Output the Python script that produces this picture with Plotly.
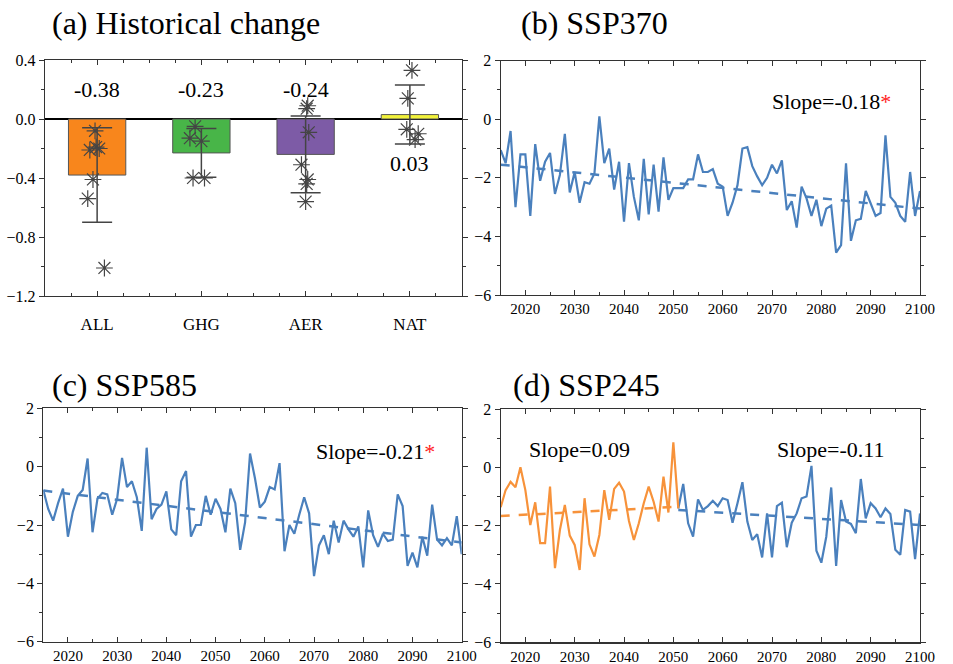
import plotly.graph_objects as go

# ---------------- data ----------------
categories = ["ALL", "GHG", "AER", "NAT"]
bar_values = [-0.38, -0.23, -0.24, 0.03]
bar_errors = [0.32, 0.165, 0.26, 0.20]
bar_colors = ["#F8861C", "#48B548", "#7D5BA6", "#F2F23A"]

stars_all = [-0.08, -0.21, -0.19, -0.20, -0.41, -0.54, -1.01]
stars_ghg = [-0.05, -0.13, -0.15, -0.40, -0.40]
stars_aer = [0.09, 0.07, -0.09, -0.31, -0.41, -0.44, -0.56]
stars_nat = [0.33, 0.14, -0.07, -0.10, -0.14]

years = list(range(2015, 2101))

ssp370 = [-1.05, -1.5, -0.4, -3.0, -1.2, -1.2, -3.3, -0.85, -2.1, -1.45,
          -1.15, -2.55, -1.9, -0.5, -2.5, -1.8, -2.85, -2.15, -2.2, -1.85,
          0.1, -1.5, -1.0, -2.4, -1.45, -3.5, -1.5, -2.65, -3.45, -1.35,
          -3.25, -1.55, -3.15, -1.3, -2.75, -2.35, -2.35, -2.35, -2.05, -2.05,
          -1.2, -1.8, -1.8, -1.7, -2.2, -2.3, -3.3, -2.85, -2.25, -1.0,
          -0.95, -1.6, -1.95, -2.25, -2.0, -1.55, -1.85, -1.4, -3.1, -2.8,
          -3.7, -2.3, -2.7, -3.3, -2.75, -3.65, -3.05, -2.95, -4.55, -4.3,
          -1.5, -4.15, -3.45, -3.4, -2.45, -2.85, -3.3, -3.2, -0.55, -2.65,
          -2.85, -3.3, -3.5, -1.8, -3.3, -2.45]

ssp585 = [-0.8, -1.45, -1.85, -1.25, -0.75, -2.4, -1.55, -1.0, -0.8, 0.28,
          -2.25, -1.1, -0.9, -0.95, -1.65, -1.1, 0.3, -0.7, -0.5, -1.05,
          -2.2, 0.65, -1.8, -1.45, -1.3, -0.85, -2.15, -2.35, -0.5, -0.15,
          -2.4, -2.0, -2.0, -1.0, -1.65, -1.1, -1.45, -2.25, -0.75, -1.25,
          -2.85, -1.9, 0.45, -0.4, -1.4, -1.2, -0.7, -0.78, 0.12, -2.9,
          -2.0, -2.3, -1.65, -1.05, -1.6, -3.75, -2.7, -2.35, -3.0, -1.85,
          -2.6, -1.85, -2.15, -2.4, -2.05, -3.45, -1.5, -2.35, -2.75, -2.3,
          -2.55, -2.5, -0.95, -1.35, -3.4, -2.95, -3.45, -2.4, -3.05, -1.3,
          -2.5, -2.7, -2.45, -2.7, -1.7, -3.0]

years_245_early = list(range(2015, 2052))
ssp245_early = [-1.37, -0.78, -0.5, -0.68, 0.0, -0.78, -1.98, -1.2, -2.6, -2.6,
                -0.66, -3.46, -2.15, -1.29, -2.34, -2.66, -3.52, -1.06, -2.64, -3.06,
                -2.32, -0.78, -1.8, -0.74, -0.53, -0.83, -1.84, -2.49, -1.92, -1.23,
                -0.66, -1.18, -1.86, -0.32, -1.55, 0.86, -1.41]
years_245_late = list(range(2051, 2101))
ssp245_late = [-1.41, -0.57, -1.92, -2.38, -1.1, -1.46, -1.33, -1.15, -1.33, -1.06,
               -1.12, -1.9, -1.23, -0.51, -1.86, -2.49, -2.29, -3.09, -1.58, -3.09,
               -1.33, -1.21, -2.74, -1.9, -1.58, -1.06, -1.0, 0.05, -2.86, -3.27,
               -2.38, -0.69, -3.38, -1.12, -1.86, -1.94, -2.26, -0.4, -1.75, -1.23,
               -1.41, -1.71, -1.41, -1.6, -2.83, -3.0, -1.46, -1.52, -3.15, -1.58]

trend_years_full = [2015, 2100]
trend_370 = [-1.55, -3.05]
trend_585 = [-0.82, -2.60]
trend_years_early = [2015, 2051]
trend_245_early = [-1.67, -1.35]
trend_years_late = [2051, 2100]
trend_245_late = [-1.46, -1.98]

slope_370 = "-0.18"
slope_585 = "-0.21"
slope_245_early = "0.09"
slope_245_late = "-0.11"

titles = ["(a) Historical change", "(b) SSP370", "(c) SSP585", "(d) SSP245"]

# ---------------- styling ----------------
FONT = "Liberation Serif, Times New Roman, serif"
BLUE = "#4A80BD"
ORANGE = "#F7923A"
STAR = "#454545"
AX = "#333333"
W, H = 953, 664


def dom_x(a, b):
    return [a / W, b / W]


def dom_y(top, bottom):
    return [1 - bottom / H, 1 - top / H]


fig = go.Figure()

# ---- panel (a) ----
fig.add_trace(go.Bar(
    x=list(range(len(categories))), y=bar_values, width=0.55,
    marker=dict(color=bar_colors, line=dict(color="#555555", width=1)),
    error_y=dict(type="data", array=bar_errors, visible=True,
                 color="#444444", thickness=1.5, width=15),
    xaxis="x", yaxis="y", showlegend=False))

jitter = [
    [-0.02, -0.07, -0.01, 0.02, -0.04, -0.09, 0.07],
    [-0.06, -0.11, 0.0, -0.08, 0.03],
    [0.02, 0.01, 0.03, -0.04, 0.02, 0.01, 0.0],
    [0.02, -0.02, -0.03, 0.08, 0.05],
]
for i, vals in enumerate([stars_all, stars_ghg, stars_aer, stars_nat]):
    fig.add_trace(go.Scatter(
        x=[i + j for j in jitter[i]], y=vals, mode="markers",
        marker=dict(symbol="asterisk-open", size=14,
                    line=dict(color=STAR, width=1.2), color=STAR),
        xaxis="x", yaxis="y", showlegend=False))

label_y = [0.2, 0.2, 0.2, -0.3]
annotations = []
for i, v in enumerate(bar_values):
    annotations.append(dict(x=i, y=label_y[i], xref="x", yref="y",
                            text=f"{v:.2f}", showarrow=False,
                            font=dict(family=FONT, size=22, color="black")))

# ---- panel (b) ----
fig.add_trace(go.Scatter(x=years, y=ssp370, mode="lines",
                         line=dict(color=BLUE, width=2.2),
                         xaxis="x2", yaxis="y2", showlegend=False))
fig.add_trace(go.Scatter(x=trend_years_full, y=trend_370, mode="lines",
                         line=dict(color=BLUE, width=2.5, dash="dash"),
                         xaxis="x2", yaxis="y2", showlegend=False))
# ---- panel (c) ----
fig.add_trace(go.Scatter(x=years, y=ssp585, mode="lines",
                         line=dict(color=BLUE, width=2.2),
                         xaxis="x3", yaxis="y3", showlegend=False))
fig.add_trace(go.Scatter(x=trend_years_full, y=trend_585, mode="lines",
                         line=dict(color=BLUE, width=2.5, dash="dash"),
                         xaxis="x3", yaxis="y3", showlegend=False))
# ---- panel (d) ----
fig.add_trace(go.Scatter(x=years_245_late, y=ssp245_late, mode="lines",
                         line=dict(color=BLUE, width=2.2),
                         xaxis="x4", yaxis="y4", showlegend=False))
fig.add_trace(go.Scatter(x=years_245_early, y=ssp245_early, mode="lines",
                         line=dict(color=ORANGE, width=2.2),
                         xaxis="x4", yaxis="y4", showlegend=False))
fig.add_trace(go.Scatter(x=trend_years_early, y=trend_245_early, mode="lines",
                         line=dict(color=ORANGE, width=2.5, dash="dash"),
                         xaxis="x4", yaxis="y4", showlegend=False))
fig.add_trace(go.Scatter(x=trend_years_late, y=trend_245_late, mode="lines",
                         line=dict(color=BLUE, width=2.5, dash="dash"),
                         xaxis="x4", yaxis="y4", showlegend=False))

slope_font = dict(family=FONT, size=22, color="black")
star_html = "<span style='color:#FF2020'>*</span>"
annotations += [
    dict(x=2069.5, y=0.62, xref="x2", yref="y2", xanchor="left",
         text=f"Slope={slope_370}{star_html}", showarrow=False, font=slope_font),
    dict(x=2070, y=0.52, xref="x3", yref="y3", xanchor="left",
         text=f"Slope={slope_585}{star_html}", showarrow=False, font=slope_font),
    dict(x=2020.3, y=0.6, xref="x4", yref="y4", xanchor="left",
         text=f"Slope={slope_245_early}", showarrow=False, font=slope_font),
    dict(x=2070.7, y=0.6, xref="x4", yref="y4", xanchor="left",
         text=f"Slope={slope_245_late}", showarrow=False, font=slope_font),
]

title_font = dict(family=FONT, size=32, color="black")
title_pos = [(50, 23), (519, 23), (50, 385), (511, 385)]
for t, (px, py) in zip(titles, title_pos):
    annotations.append(dict(x=px / W, y=1 - py / H,
                            xref="paper", yref="paper",
                            xanchor="left", yanchor="middle", text=t,
                            showarrow=False, font=title_font))

common = dict(showline=True, linecolor=AX, linewidth=1.2, mirror="ticks",
              ticks="outside", ticklen=5, tickcolor=AX, showgrid=False,
              zeroline=False, automargin=False, fixedrange=True)

xline = dict(common, range=[2015, 2100], tick0=2020, dtick=10, ticks="inside",
             tickfont=dict(family=FONT, size=15, color="black"),
             minor=dict(ticks="inside", dtick=5, ticklen=3, tickcolor=AX))
yline = dict(common, range=[-6, 2], tick0=-6, dtick=2,
             tickfont=dict(family=FONT, size=16, color="black"),
             minor=dict(ticks="outside", dtick=1, ticklen=3, tickcolor=AX))

fig.update_layout(
    width=W, height=H, margin=dict(l=0, r=0, t=0, b=0),
    paper_bgcolor="white", plot_bgcolor="white",
    font=dict(family=FONT, color="black"),
    bargap=0, hovermode=False,
    xaxis=dict(common, domain=dom_x(45, 462), anchor="y",
               range=[-0.5, 3.5], tickvals=[0, 1, 2, 3], ticktext=categories,
               ticks="inside", ticklabelstandoff=12,
               tickfont=dict(family=FONT, size=17, color="black"),
               minor=dict(ticks="inside", dtick=0.25, tick0=0, ticklen=3, tickcolor=AX)),
    yaxis=dict(common, domain=dom_y(60, 296), anchor="x",
               range=[-1.2, 0.4], tick0=-1.2, dtick=0.4, tickformat=".1f",
               tickfont=dict(family=FONT, size=16, color="black"),
               zeroline=True, zerolinecolor="black", zerolinewidth=1.2,
               minor=dict(ticks="outside", dtick=0.2, ticklen=3, tickcolor=AX)),
    xaxis2=dict(xline, domain=dom_x(500.7, 920), anchor="y2"),
    yaxis2=dict(yline, domain=dom_y(60.7, 295), anchor="x2"),
    xaxis3=dict(xline, domain=dom_x(43.3, 461.7), anchor="y3"),
    yaxis3=dict(yline, domain=dom_y(408.3, 641.7), anchor="x3"),
    xaxis4=dict(xline, domain=dom_x(500.7, 920), anchor="y4"),
    yaxis4=dict(yline, domain=dom_y(409, 642.3), anchor="x4"),
    annotations=annotations,
)

fig.write_html(
    "out.html",
    config={"displayModeBar": False, "staticPlot": True},
    post_script="document.body.style.margin='0';document.body.style.padding='0';",
)
